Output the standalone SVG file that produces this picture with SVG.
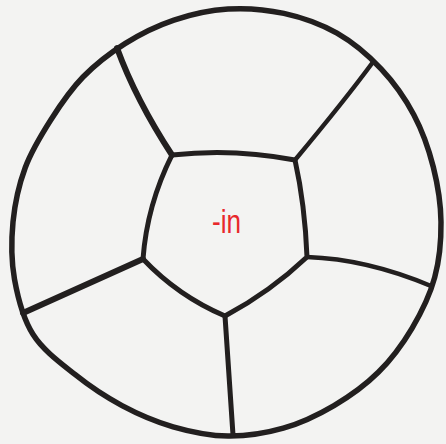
<svg xmlns="http://www.w3.org/2000/svg" width="446" height="444" viewBox="0 0 446 444">
  <style>
    .ink { fill: none; stroke: #221f1f; stroke-linecap: round; stroke-linejoin: round; }
    .lbl { font-family: "Liberation Sans", Arial, sans-serif; fill: #e8282b; }
  </style>
  <rect x="0" y="0" width="446" height="444" fill="#f3f3f2"/>
  <g id="outer-ring">
    <path class="ink" stroke-width="5.5" d="M441,222 C441.2,240.4 439.5,259.7 434.7,277.4 C429.9,295.1 421.4,312.5 412,328.3 C402.6,344.1 391.3,359.4 378.3,372.3 C365.3,385.2 349.8,396.3 334,405.6 C318.2,414.9 301,423.1 283.3,428.2 C265.6,433.3 246.4,436.2 228,436 C209.6,435.8 190.8,431.9 173.1,426.8 C155.4,421.7 138.3,414.3 122,405.6 C105.7,396.9 90.1,386.6 75.3,374.7 C60.5,362.9 43.2,350.4 33.1,334.5 C23,318.6 17.9,298 14.5,279.2 C11.2,260.5 11.2,240.6 13,222 C14.8,203.4 18.9,184.8 25.2,167.7 C31.5,150.7 41.3,134.8 50.9,119.7 C60.5,104.6 70.7,89.7 83,77 C95.4,64.3 109.9,53.1 125,43.6 C140.2,34.1 156.7,25.9 173.9,20.1 C191.1,14.3 209.7,10.1 228,9 C246.3,7.9 265.7,9.4 283.9,13.4 C302.1,17.4 320.8,24 337,33.2 C353.2,42.5 368.3,55.3 381.1,68.9 C393.9,82.5 405.1,98.4 413.8,114.7 C422.5,131.1 428.8,149.1 433.3,167 C437.8,184.9 440.8,203.6 441,222 Z"/>
  </g>
  <g id="connectors">
    <path class="ink" stroke-width="6" d="M117,48 Q136,100 172,155"/>
    <path class="ink" stroke-width="4.5" d="M373,62 Q345,100 295,160"/>
    <path class="ink" stroke-width="4.5" d="M307,257 Q367,259 431,286"/>
    <path class="ink" stroke-width="5" d="M225,316 L233,435"/>
    <path class="ink" stroke-width="6" d="M143,259 L23,313"/>
  </g>
  <g id="center">
    <path class="ink" stroke-width="5" d="M172,155 Q233,148 295,160 Q305,205 307,257 Q270,292 225,316 Q178,296 143,259 Q147,205 172,155 Z"/>
    <text class="lbl" x="212" y="233" font-size="34" textLength="29" lengthAdjust="spacingAndGlyphs">-in</text>
  </g>
</svg>
